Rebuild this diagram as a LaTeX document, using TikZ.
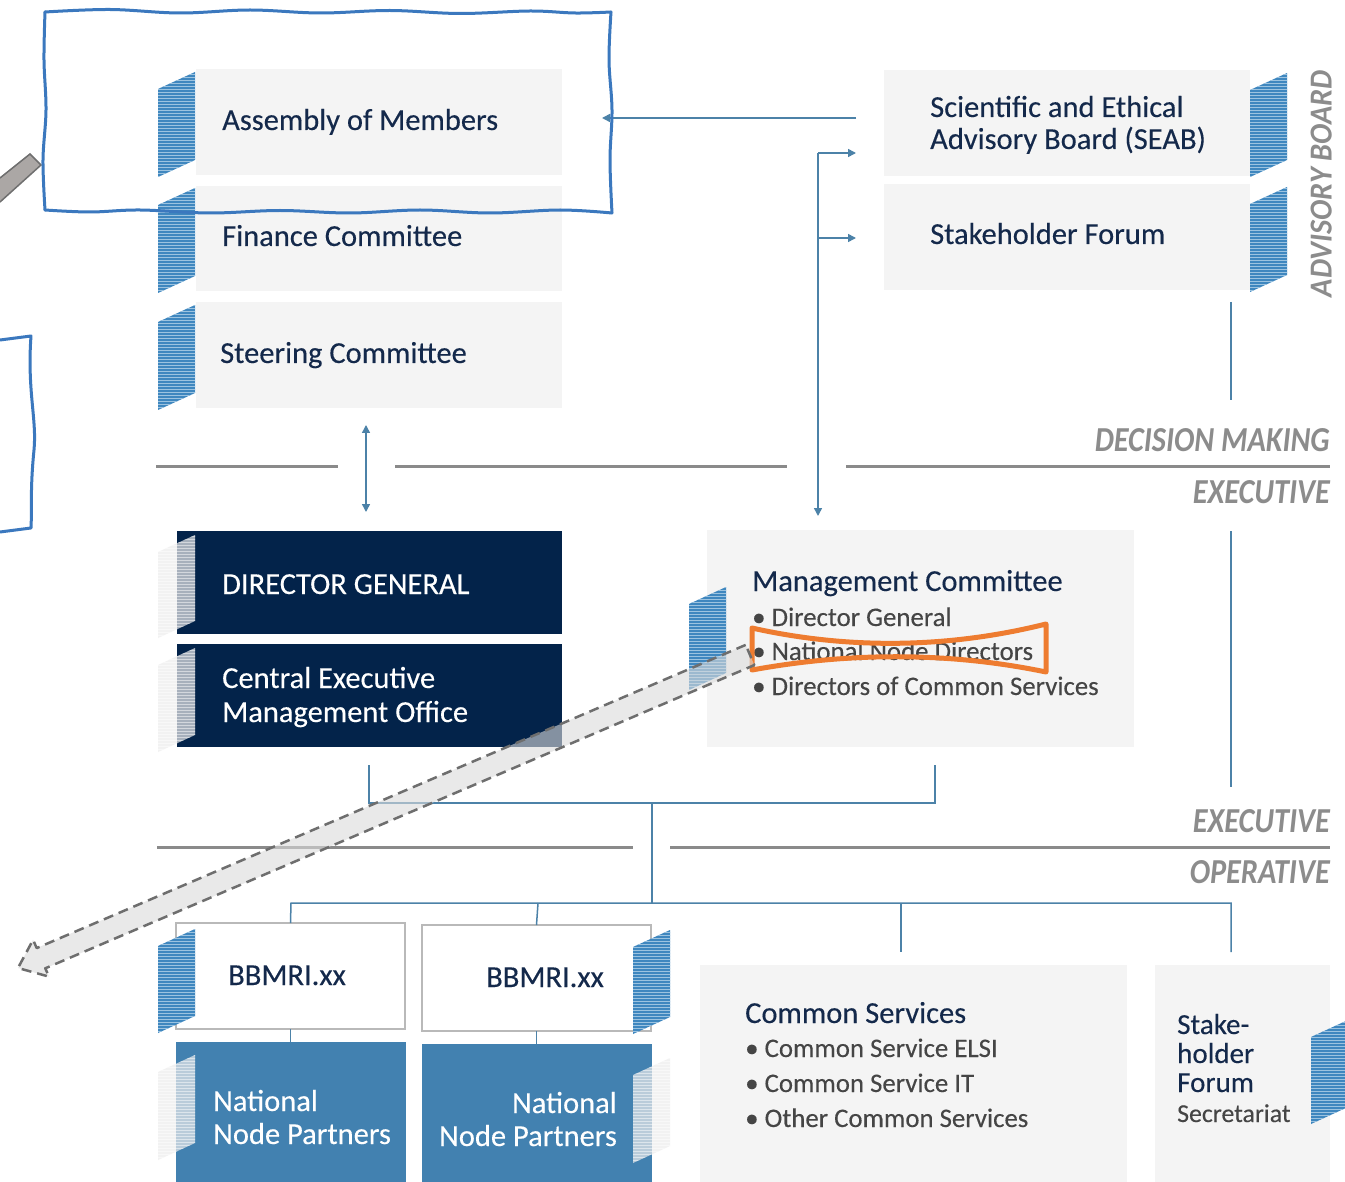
\documentclass[tikz,border=0pt]{standalone}
\usepackage{fontspec}
\setmainfont{Carlito}[FakeBold=0.25]
\newfontfamily\lblfont{Carlito}
\usetikzlibrary{arrows.meta,patterns,calc}
\definecolor{boxgray}{HTML}{F4F4F4}
\definecolor{navyfill}{HTML}{03234A}
\definecolor{navytext}{HTML}{14294B}
\definecolor{bullettext}{HTML}{454545}
\definecolor{nnpblue}{HTML}{4281B0}
\definecolor{stripeblue}{HTML}{3F87BF}
\definecolor{stripeline}{HTML}{9CC3E0}
\definecolor{connblue}{HTML}{4C82A8}
\definecolor{divgray}{HTML}{8A8A8A}
\definecolor{lblgray}{HTML}{8C8C8C}
\definecolor{annblue}{HTML}{3B78BE}
\definecolor{annorange}{HTML}{EE7C30}
\definecolor{dashgray}{HTML}{6E6E6E}
\definecolor{barfill}{HTML}{ABA7A5}
\definecolor{barline}{HTML}{6F6F6F}
\newcommand\bstripe[3]{%
  \fill[stripeblue] (#1,#2+17) -- (#1+37,#2) -- (#1+37,#3-17) -- (#1,#3) -- cycle;
  \fill[pattern=horizontal lines, pattern color=stripeline] (#1,#2+17) -- (#1+37,#2) -- (#1+37,#3-17) -- (#1,#3) -- cycle;}
\newcommand\lstripe[3]{%
  \fill[white!86!gray, opacity=0.7] (#1,#2+17) -- (#1+37,#2) -- (#1+37,#3-17) -- (#1,#3) -- cycle;
  \fill[pattern=horizontal lines, pattern color=white, opacity=0.5] (#1,#2+17) -- (#1+37,#2) -- (#1+37,#3-17) -- (#1,#3) -- cycle;}
\begin{document}
\begin{tikzpicture}[x=1pt,y=-1pt,
  box/.style={inner sep=0, outer sep=0, anchor=north west, draw=none},
  graybox/.style={box, fill=boxgray},
  navybox/.style={box, fill=navyfill},
  bluebox/.style={box, fill=nnpblue},
  whitebox/.style={box, fill=white, draw=gray!55, line width=1.2},
  txt/.style={inner sep=0, anchor=base west, text=navytext, font=\fontsize{30.5}{34}\selectfont},
  wtxt/.style={txt, text=white},
  btxt/.style={inner sep=0, anchor=base west, text=bullettext, font=\fontsize{26.8}{30}\selectfont},
  conn/.style={draw=connblue, line width=1.5},
  arr/.style={conn, -{Triangle[length=8,width=8]}},
  darr/.style={conn, {Triangle[length=8,width=8]}-{Triangle[length=8,width=8]}},
  divider/.style={draw=divgray, line width=3},
  lbl/.style={inner sep=0, text=lblgray, font=\lblfont},
  annot/.style={annblue, line width=3, line join=round, line cap=round},
]
\useasboundingbox (0,0) rectangle (1345,1182);
\fill[white] (0,0) rectangle (1345,1182);

% ---------- boxes ----------
\node[graybox, minimum width=366, minimum height=106] (am) at (196,69) {};
\node[graybox, minimum width=366, minimum height=105] (fc) at (196,186) {};
\node[graybox, minimum width=366, minimum height=106] (sc) at (196,302) {};
\node[graybox, minimum width=366, minimum height=106] (seab) at (884,70) {};
\node[graybox, minimum width=366, minimum height=106] (sf) at (884,184) {};
\node[navybox, minimum width=385, minimum height=103] (dg) at (177,531) {};
\node[navybox, minimum width=385, minimum height=103] (cemo) at (177,644) {};
\node[graybox, minimum width=427, minimum height=217] (mc) at (707,530) {};
\node[whitebox, minimum width=229, minimum height=106] (bb1) at (176,923) {};
\node[whitebox, minimum width=229, minimum height=106] (bb2) at (422,925) {};
\node[bluebox, minimum width=230, minimum height=140] (np1) at (176,1042) {};
\node[bluebox, minimum width=230, minimum height=138] (np2) at (422,1044) {};
\node[graybox, minimum width=427, minimum height=217] (cs) at (700,965) {};
\node[graybox, minimum width=175, minimum height=217] (sfs) at (1155,965) {};

% ---------- stripes ----------
\bstripe{158}{72}{177}
\bstripe{158}{188}{293}
\bstripe{158}{305}{410}
\bstripe{1250}{73}{177}
\bstripe{1250}{187}{292}
\lstripe{158}{535}{638}
\lstripe{158}{648}{752}
\bstripe{689}{587}{690}
\bstripe{158}{929}{1033}
\bstripe{633}{930}{1034}
\lstripe{158}{1055}{1160}
\lstripe{633}{1058}{1163}
\bstripe{1311}{1020}{1124}

% ---------- dividers ----------
\draw[divider] (156,466) -- (338,466);
\draw[divider] (395,466) -- (787,466);
\draw[divider] (846,466) -- (1330,466);
\draw[divider] (157,847) -- (633,847);
\draw[divider] (670,847) -- (1330,847);

% ---------- level labels ----------
\node[lbl, anchor=south east] (ldm) at (1330,452) {\resizebox{235pt}{23pt}{\bfseries\itshape DECISION MAKING}};
\node[lbl, anchor=south east] (lex1) at (1330,504) {\resizebox{137pt}{23pt}{\bfseries\itshape EXECUTIVE}};
\node[lbl, anchor=south east] (lex2) at (1330,833) {\resizebox{137pt}{23pt}{\bfseries\itshape EXECUTIVE}};
\node[lbl, anchor=south east] (lop) at (1330,884) {\resizebox{140pt}{23pt}{\bfseries\itshape OPERATIVE}};
\node[lbl, rotate=90, anchor=south east] (lab) at (1332,70) {\resizebox{227pt}{21pt}{\bfseries\itshape ADVISORY BOARD}};

% ---------- connectors ----------
\coordinate (sa) at (856,118);
\coordinate (ae) at (602,118);
\draw[arr] (sa) -- (ae);
\coordinate (vtop) at (818,153);
\coordinate (vmid) at (818,238);
\coordinate (vbot) at (818,516);
\draw[arr] (vtop) -- (vbot);
\draw[arr] (vtop) -- (856,153);
\draw[arr] (vmid) -- (856,238);
\coordinate (dtop) at (366,425);
\coordinate (dbot) at (366,512);
\draw[darr] (dtop) -- (dbot);
\draw[conn] (1231,302) -- (1231,400);
\draw[conn] (1231,531) -- (1231,787);
\coordinate (jl) at (369,765);
\coordinate (jr) at (935,765);
\coordinate (jm) at (652,803);
\coordinate (bus) at (652,903);
\draw[conn] (jl) -- (369,803) -- (935,803) -- (jr);
\draw[conn] (jm) -- (bus);
\draw[conn] (bb1.north) -- (291,903) -- (1231,903) -- (1231,952);
\draw[conn] (538,903) -- (bb2.north);
\draw[conn] (901,903) -- (901,952);
\draw[conn] (bb1.south) -- (np1.north -| bb1.south);
\draw[conn] (bb2.south) -- (np2.north -| bb2.south);

% ---------- texts ----------
\node[txt] (tam) at (222,130) {Assembly of Members};
\node[txt] (tfc) at (222,246) {Finance Committee};
\node[txt] (tsc) at (220,363) {Steering Committee};
\node[txt] (tse1) at (930,117) {Scientific and Ethical};
\node[txt] (tse2) at (930,149) {Advisory Board (SEAB)};
\node[txt] (tsf) at (930,244) {Stakeholder Forum};
\node[wtxt] (tdg) at (222,594) {DIRECTOR GENERAL};
\node[wtxt] (tce1) at (222,688) {Central Executive};
\node[wtxt] (tce2) at (222,722) {Management Office};
\node[txt] (tmc) at (752,591) {Management Committee};
\node[btxt] (tmc1) at (752,626) {\textbullet\ Director General};
\node[btxt] (tmc2) at (752,660) {\textbullet\ National Node Directors};
\node[btxt] (tmc3) at (752,695) {\textbullet\ Directors of Common Services};
\node[txt] (tbb1) at (228,985) {BBMRI.xx};
\node[txt] (tbb2) at (486,987) {BBMRI.xx};
\node[wtxt] (tnp1a) at (213,1111) {National};
\node[wtxt] (tnp1b) at (213,1144) {Node Partners};
\node[wtxt, anchor=base east] (tnp2a) at (617,1113) {National};
\node[wtxt, anchor=base east] (tnp2b) at (617,1146) {Node Partners};
\node[txt] (tcs) at (745,1023) {Common Services};
\node[btxt] (tcs1) at (745,1057) {\textbullet\ Common Service ELSI};
\node[btxt] (tcs2) at (745,1092) {\textbullet\ Common Service IT};
\node[btxt] (tcs3) at (745,1127) {\textbullet\ Other Common Services};
\node[txt, font=\fontsize{29}{32}\selectfont] (tsk1) at (1177,1034) {Stake-};
\node[txt, font=\fontsize{29}{32}\selectfont] (tsk2) at (1177,1063) {holder};
\node[txt, font=\fontsize{29}{32}\selectfont] (tsk3) at (1177,1092) {Forum};
\node[btxt, font=\fontsize{25.8}{29}\selectfont] (tsk4) at (1177,1122) {Secretariat};

% ---------- annotations ----------
\draw[fill=barfill, draw=barline, line width=1.5] (0,178) -- (30,154) -- (41,165) -- (0,202);
\draw[annot] plot[smooth, tension=0.6] coordinates {(45,12) (110,9.5) (180,13) (250,10) (320,13) (390,10.5) (460,13.5) (530,11) (575,13) (611,12)};
\draw[annot] plot[smooth, tension=0.6] coordinates {(611,12) (609,60) (612,110) (610,160) (612,213)};
\draw[annot] plot[smooth, tension=0.6] coordinates {(612,213) (560,210) (490,213) (420,210) (350,213) (280,210.5) (210,213) (140,210) (90,212) (45,210)};
\draw[annot] plot[smooth, tension=0.6] coordinates {(45,210) (43,160) (46,110) (44,60) (45,12)};
\draw[annot] (0,340) -- (31,336)
  .. controls (27,390) and (37,420) .. (34,450)
  .. controls (30,490) and (32,510) .. (31,528) -- (0,532);
\draw[annorange, line width=5, line join=round] (752,628)
  .. controls (850,650) and (950,648) .. (1046,624) -- (1046,672)
  .. controls (950,652) and (850,652) .. (752,670) -- cycle;
\draw[fill=gray!28, fill opacity=0.6, draw=dashgray, line width=2.5, dash pattern=on 10pt off 6pt, line join=round]
  (745.7,644.9) -- (36.7,948.1) -- (33.1,939.8) -- (18,968) -- (48.9,976.6) -- (45.3,968.3) -- (754.3,665.1) -- cycle;
\end{tikzpicture}
\end{document}
